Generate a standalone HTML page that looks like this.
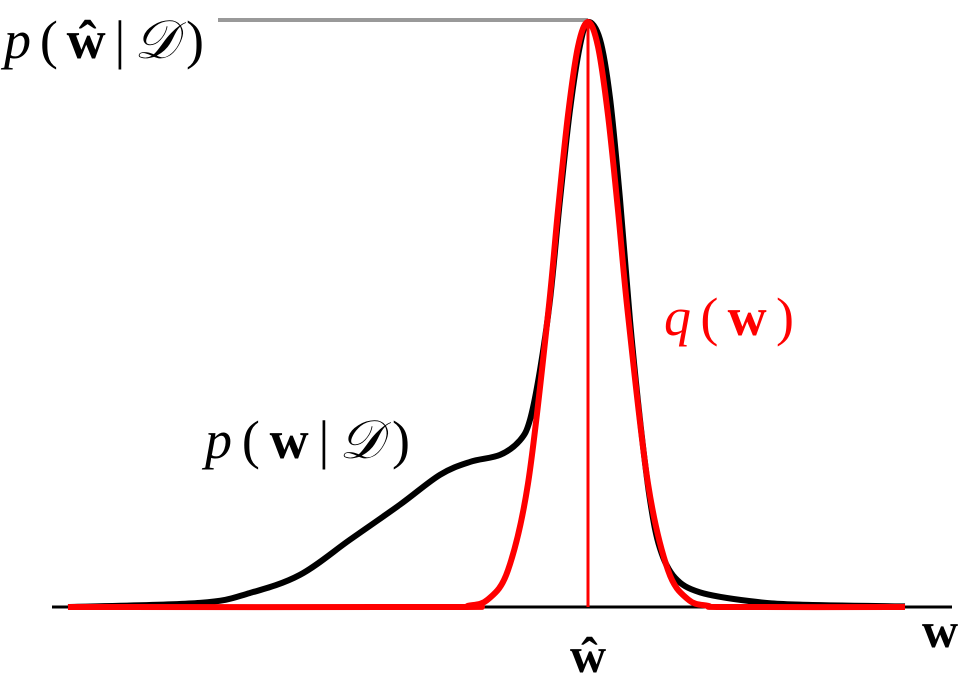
<!DOCTYPE html>
<html><head><meta charset="utf-8"><style>
html,body{margin:0;padding:0;background:#fff;width:968px;height:694px;overflow:hidden}
svg{display:block}
text{font-family:"Liberation Serif",serif}
</style></head><body>
<svg id="chart" width="968" height="694" viewBox="0 0 968 694">
<line x1="52" y1="607" x2="952" y2="607" stroke="#000" stroke-width="3"/>
<line x1="218" y1="20" x2="588" y2="20" stroke="#999" stroke-width="4"/>
<path id="blackCurve" fill="none" stroke="#000" stroke-width="6" stroke-linejoin="round"/>
<path id="redCurve" fill="none" stroke="#f00" stroke-width="6" stroke-linejoin="round"/>
<line id="modeLine" stroke="#f00" stroke-width="3"/>
<text x="4" y="58" font-size="54" textLength="200" lengthAdjust="spacing"><tspan font-style="italic">p</tspan>(<tspan font-weight="bold">ŵ</tspan>|<tspan font-style="italic">𝒟</tspan>)</text>
<text x="205" y="458" font-size="54" textLength="205" lengthAdjust="spacing"><tspan font-style="italic">p</tspan>(<tspan font-weight="bold">w</tspan>|<tspan font-style="italic">𝒟</tspan>)</text>
<text x="664" y="335" font-size="54" fill="#f00" textLength="130" lengthAdjust="spacing"><tspan font-style="italic">q</tspan>(<tspan font-weight="bold">w</tspan>)</text>
<text x="588" y="672" font-size="50" font-weight="bold" text-anchor="middle">ŵ</text>
<text x="940" y="647" font-size="50" font-weight="bold" text-anchor="middle">w</text>
</svg>
<script>
const blackW=[-5.2,-3.88,-3.38,-2.88,-2.38,-1.88,-1.48,-1.18,-0.88,-0.68,-0.58,-0.48,-0.38,-0.28,-0.18,-0.08,0,0.12,0.22,0.32,0.42,0.52,0.62,0.72,0.87,1.12,1.62,2.12,3.17];
const blackP=[0,0.007,0.024,0.055,0.115,0.175,0.226,0.248,0.26,0.285,0.32,0.405,0.525,0.696,0.85,0.96,1,0.97,0.87,0.697,0.49,0.32,0.183,0.1,0.05,0.025,0.01,0.004,0.001];
const redW=[-5.2,-1.4,-1.2,-1.0,-0.8,-0.6,-0.4,-0.3,-0.2,-0.1,0,0.1,0.2,0.3,0.4,0.6,0.8,1.0,1.2,1.4,3.17];
const redP=[0,0,0.002,0.013,0.063,0.211,0.5,0.678,0.841,0.958,1,0.958,0.841,0.678,0.5,0.211,0.063,0.013,0.002,0,0];
const modeW=0;
function xs(w){return 588+w*100;}
function ys(p){return 607-p*585;}
function smooth(ws,ps){
  const pts=ws.map((w,i)=>[xs(w),ys(ps[i])]);
  let d='M'+pts[0][0]+','+pts[0][1];
  for(let i=0;i<pts.length-1;i++){
    const p0=pts[Math.max(0,i-1)],p1=pts[i],p2=pts[i+1],p3=pts[Math.min(pts.length-1,i+2)];
    const c1=[p1[0]+(p2[0]-p0[0])/6,p1[1]+(p2[1]-p0[1])/6];
    const c2=[p2[0]-(p3[0]-p1[0])/6,p2[1]-(p3[1]-p1[1])/6];
    d+=' C'+c1[0]+','+c1[1]+' '+c2[0]+','+c2[1]+' '+p2[0]+','+p2[1];
  }
  return d;
}
document.getElementById('blackCurve').setAttribute('d',smooth(blackW,blackP));
document.getElementById('redCurve').setAttribute('d',smooth(redW,redP));
const ml=document.getElementById('modeLine');
ml.setAttribute('x1',xs(modeW));ml.setAttribute('x2',xs(modeW));
ml.setAttribute('y1',ys(1));ml.setAttribute('y2',ys(0));
</script>
</body></html>
